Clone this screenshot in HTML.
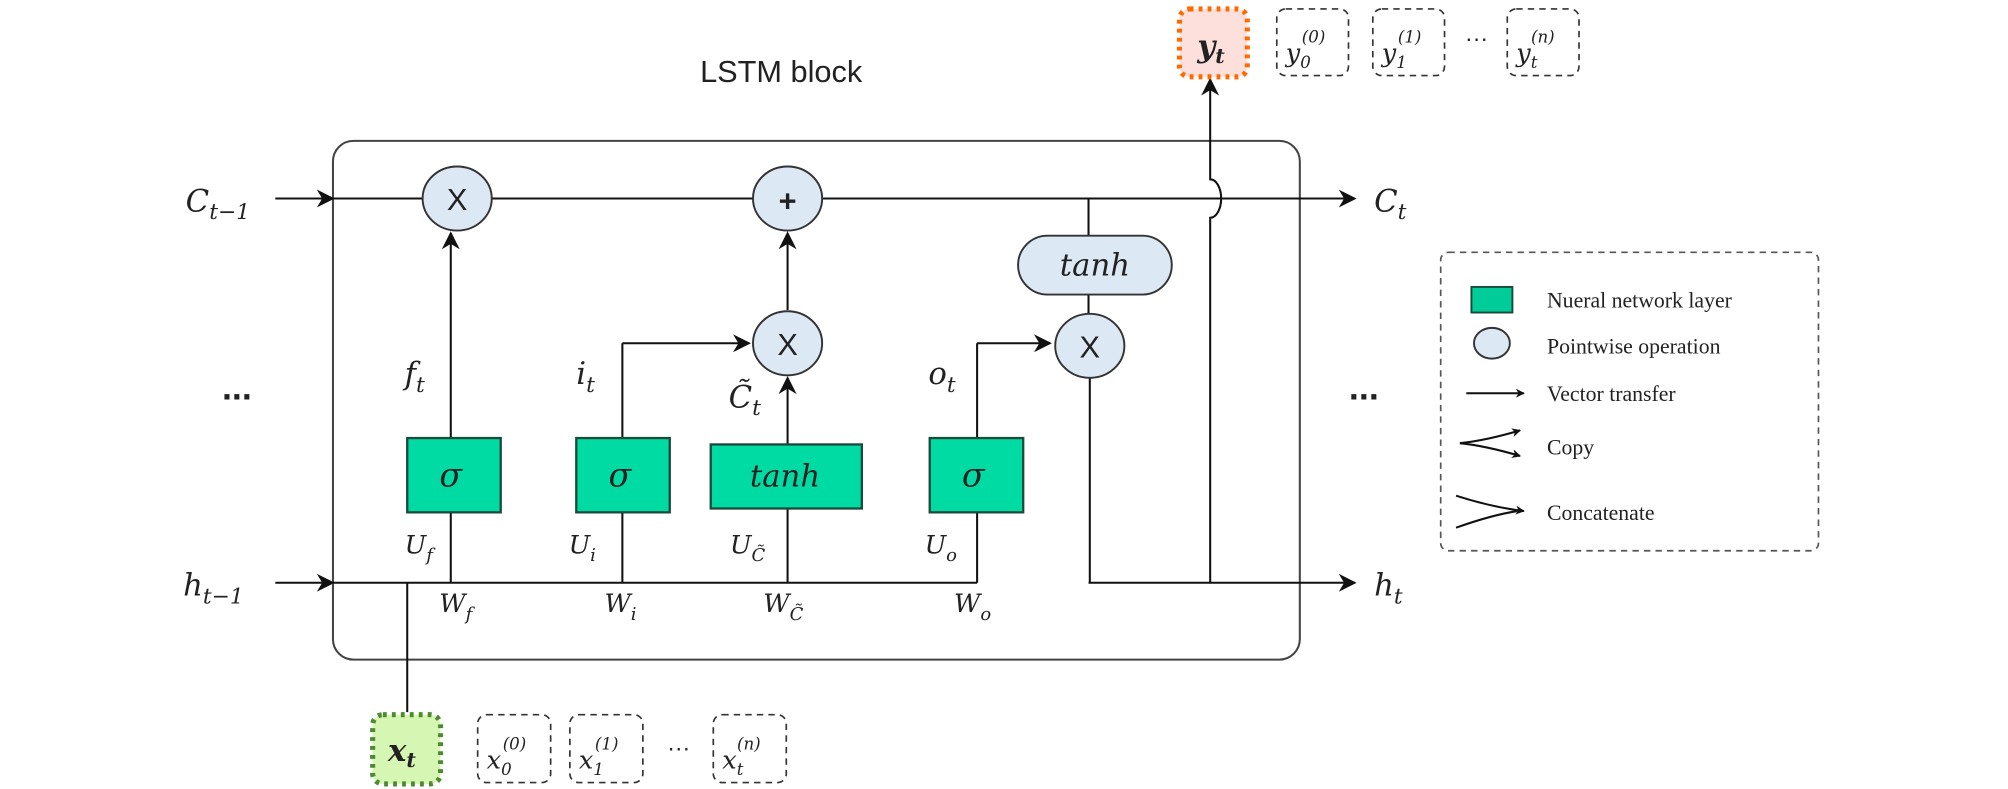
<!DOCTYPE html>
<html><head><meta charset="utf-8"><style>
html,body{margin:0;padding:0;background:#fff;}
svg{display:block;}
.m{font-family:"DejaVu Serif","Liberation Serif",serif;font-style:italic;fill:#222;}
.s{font-family:"Liberation Sans",sans-serif;fill:#222;}
.lg{font-family:"Liberation Serif",serif;fill:#222;font-size:17px;}
</style></head><body>
<svg width="2008" height="789" viewBox="0 0 1568 616" preserveAspectRatio="none" xmlns="http://www.w3.org/2000/svg">
<defs>
<marker id="a" viewBox="0 0 10 10" refX="9" refY="5" markerWidth="7" markerHeight="7" orient="auto-start-reverse" markerUnits="userSpaceOnUse">
<path d="M0,0 L10,5 L0,10 L3,5 z" fill="#111"/></marker>
<marker id="b" viewBox="0 0 10 10" refX="9" refY="5" markerWidth="14" markerHeight="14" orient="auto" markerUnits="userSpaceOnUse">
<path d="M0,0 L10,5 L0,10 L3,5 z" fill="#111"/></marker>
</defs>
<text x="610" y="64" class="s" font-size="24" text-anchor="middle">LSTM block</text>
<rect x="260" y="110" width="755" height="405" rx="16" fill="none" stroke="#444" stroke-width="1.6"/>
<g stroke="#111" stroke-width="1.6" fill="none">
<!-- C line -->
<line x1="215" y1="155" x2="260" y2="155" marker-end="url(#b)"/>
<line x1="260" y1="155" x2="1058" y2="155" marker-end="url(#b)"/>
<!-- h line -->
<line x1="215" y1="455" x2="260" y2="455" marker-end="url(#b)"/>
<line x1="260" y1="455" x2="763" y2="455"/>
<line x1="850" y1="455" x2="1058" y2="455" marker-end="url(#b)"/>
<!-- verticals -->
<line x1="352" y1="455" x2="352" y2="182" marker-end="url(#b)"/>
<line x1="486" y1="455" x2="486" y2="268"/>
<line x1="486" y1="268" x2="585" y2="268" marker-end="url(#b)"/>
<line x1="615" y1="455" x2="615" y2="295" marker-end="url(#b)"/>
<line x1="615" y1="242" x2="615" y2="182" marker-end="url(#b)"/>
<line x1="763" y1="455" x2="763" y2="268"/>
<line x1="763" y1="268" x2="820" y2="268" marker-end="url(#b)"/>
<line x1="850" y1="155" x2="850" y2="245"/>
<line x1="851" y1="295" x2="851" y2="455"/>
<path d="M945,455 L945,170 A8,14 0 0 0 945,140 L945,62" marker-end="url(#b)"/>
<line x1="318" y1="455" x2="318" y2="556"/>
</g>
<!-- circles -->
<g fill="#dde8f5" stroke="#333" stroke-width="1.5">
<ellipse cx="357" cy="155" rx="27" ry="25"/>
<ellipse cx="615" cy="155" rx="27" ry="25"/>
<ellipse cx="615" cy="268" rx="27" ry="25"/>
<ellipse cx="851" cy="270" rx="27" ry="25"/>
<rect x="795" y="184" width="120" height="46" rx="23"/>
</g>
<g class="s" font-size="24" text-anchor="middle">
<text x="357" y="164">X</text><text x="615" y="277">X</text><text x="851" y="279">X</text>
<text x="615" y="165" font-weight="bold">+</text>
</g>
<text x="855" y="215" class="m" font-size="24" text-anchor="middle">tanh</text>
<!-- NN boxes -->
<g fill="#00dba4" stroke="#1a4a3a" stroke-width="1.8">
<rect x="318" y="342" width="73" height="58"/>
<rect x="450" y="342" width="73" height="58"/>
<rect x="555" y="347" width="118" height="50"/>
<rect x="726" y="342" width="73" height="58"/>
</g>
<g class="m" font-size="26" text-anchor="middle">
<text x="352" y="380">σ</text><text x="484" y="380">σ</text><text x="760" y="380">σ</text>
<text x="613" y="380" font-size="24">tanh</text>
</g>
<!-- labels -->
<g class="m" font-size="24">
<text x="145" y="165">C<tspan font-size="17" dy="6">t−1</tspan></text>
<text x="1073" y="165">C<tspan font-size="17" dy="6">t</tspan></text>
<text x="143" y="465">h<tspan font-size="17" dy="6">t−1</tspan></text>
<text x="1073" y="465">h<tspan font-size="17" dy="6">t</tspan></text>
<text x="316" y="300">f<tspan font-size="17" dy="6">t</tspan></text>
<text x="450" y="300">i<tspan font-size="17" dy="6">t</tspan></text>
<text x="569" y="318">C̃<tspan font-size="17" dy="6">t</tspan></text>
<text x="725" y="300">o<tspan font-size="17" dy="6">t</tspan></text>
<g font-size="20">
<text x="316" y="432">U<tspan font-size="14" dy="6">f</tspan></text>
<text x="444" y="432">U<tspan font-size="14" dy="6">i</tspan></text>
<text x="570" y="432">U<tspan font-size="14" dy="6">C̃</tspan></text>
<text x="722" y="432">U<tspan font-size="14" dy="6">o</tspan></text>
<text x="343" y="478">W<tspan font-size="14" dy="6">f</tspan></text>
<text x="472" y="478">W<tspan font-size="14" dy="6">i</tspan></text>
<text x="596" y="478">W<tspan font-size="14" dy="6">C̃</tspan></text>
<text x="745" y="478">W<tspan font-size="14" dy="6">o</tspan></text>
</g>
</g>
<text x="185" y="312" class="s" font-size="28" font-weight="bold" text-anchor="middle">...</text>
<text x="1065" y="312" class="s" font-size="28" font-weight="bold" text-anchor="middle">...</text>
<!-- legend -->
<rect x="1125" y="197" width="295" height="233" rx="6" fill="none" stroke="#555" stroke-width="1.3" stroke-dasharray="5,4"/>
<rect x="1149" y="224" width="32" height="20" fill="#00cc99" stroke="#1a4a3a" stroke-width="1.5"/>
<text x="1208" y="240" class="lg">Nueral network layer</text>
<ellipse cx="1165" cy="268" rx="14" ry="12" fill="#dde8f5" stroke="#333" stroke-width="1.5"/>
<text x="1208" y="276" class="lg">Pointwise operation</text>
<line x1="1145" y1="307" x2="1190" y2="307" stroke="#111" stroke-width="1.6" marker-end="url(#a)"/>
<text x="1208" y="313" class="lg">Vector transfer</text>
<g stroke="#111" stroke-width="1.6" fill="none">
<path d="M1140,346 Q1160,344 1187,336" marker-end="url(#a)"/>
<path d="M1140,346 Q1160,348 1187,356" marker-end="url(#a)"/>
<path d="M1137,387 Q1165,396 1190,399" marker-end="url(#a)"/>
<path d="M1137,412 Q1165,402 1185,399"/>
</g>
<text x="1208" y="355" class="lg">Copy</text>
<text x="1208" y="406" class="lg">Concatenate</text>
<!-- y boxes -->
<rect x="921" y="7" width="53" height="53" rx="8" fill="#fde0dc" stroke="#ff6a00" stroke-width="4" stroke-dasharray="3,4"/>
<text x="935" y="44" class="m" font-size="24" font-weight="bold" fill="#111">y<tspan font-size="16" dy="5">t</tspan></text>
<g fill="none" stroke="#333" stroke-width="1.3" stroke-dasharray="5,4">
<rect x="997" y="7" width="56" height="52" rx="7"/>
<rect x="1072" y="7" width="56" height="52" rx="7"/>
<rect x="1177" y="7" width="56" height="52" rx="7"/>
<rect x="373" y="558" width="57" height="53" rx="7"/>
<rect x="445" y="558" width="57" height="53" rx="7"/>
<rect x="557" y="558" width="57" height="53" rx="7"/>
</g>
<g class="m" font-size="20">
<text x="1004" y="48">y<tspan font-size="13" dy="5">0</tspan><tspan font-size="13" dx="-7" dy="-20">(0)</tspan></text>
<text x="1079" y="48">y<tspan font-size="13" dy="5">1</tspan><tspan font-size="13" dx="-7" dy="-20">(1)</tspan></text>
<text x="1184" y="48">y<tspan font-size="13" dy="5">t</tspan><tspan font-size="13" dx="-5" dy="-20">(n)</tspan></text>
<text x="380" y="600">x<tspan font-size="13" dy="5">0</tspan><tspan font-size="13" dx="-7" dy="-20">(0)</tspan></text>
<text x="452" y="600">x<tspan font-size="13" dy="5">1</tspan><tspan font-size="13" dx="-7" dy="-20">(1)</tspan></text>
<text x="564" y="600">x<tspan font-size="13" dy="5">t</tspan><tspan font-size="13" dx="-5" dy="-20">(n)</tspan></text>
</g>
<text x="1153" y="36" class="s" font-size="18" text-anchor="middle">···</text>
<text x="530" y="590" class="s" font-size="18" text-anchor="middle">···</text>
<rect x="291" y="558" width="53" height="54" rx="8" fill="#d6f7b4" stroke="#4e8a32" stroke-width="4" stroke-dasharray="3,4"/>
<text x="303" y="594" class="m" font-size="24" font-weight="bold" fill="#111">x<tspan font-size="16" dy="5">t</tspan></text>
</svg>
</body></html>
